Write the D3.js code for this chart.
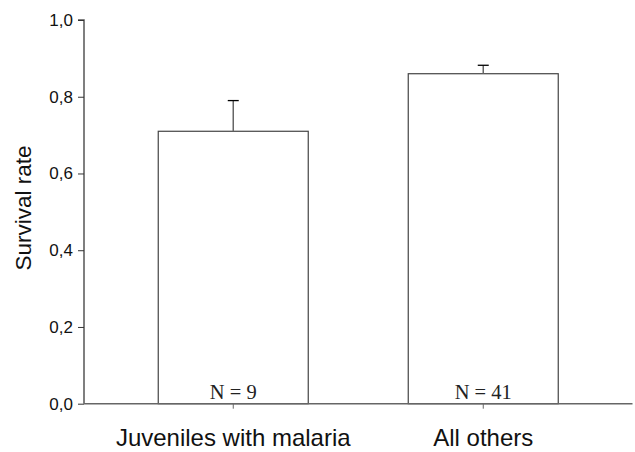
<!DOCTYPE html>
<html>
<head>
<meta charset="utf-8">
<script src="https://cdn.jsdelivr.net/npm/d3@7"></script>
<style>
  body { margin: 0; background: #fff; }
</style>
</head>
<body>
<div class="svg-container"></div>
<script>
// data
const categories = ["Juveniles with malaria", "All others"];
const survival = [0.71, 0.86];
const errorTop = [0.79, 0.882];
const sampleLabels = ["N = 9", "N = 41"];
const yTicks = [0, 0.2, 0.4, 0.6, 0.8, 1.0];

const width = 635;
const height = 452;
const margin = { top: 20, right: 2.5, bottom: 48, left: 84 };

const svg = d3
  .select(".svg-container")
  .append("svg")
  .attr("width", width)
  .attr("height", height)
  .style("font-family", "'Liberation Sans', Arial, sans-serif");

// scales
const yScale = d3
  .scaleLinear()
  .domain([0, 1])
  .range([403.7, margin.top]);

const xScale = d3
  .scaleBand()
  .domain(categories)
  .range([margin.left, width - margin.right])
  .paddingInner(0.4)
  .paddingOuter(0.297);

// bars
svg
  .selectAll(".bar")
  .data(categories)
  .enter()
  .append("rect")
  .attr("class", "bar")
  .attr("x", (d) => xScale(d))
  .attr("y", (d, i) => yScale(survival[i]))
  .attr("width", xScale.bandwidth())
  .attr("height", (d, i) => yScale(0) - yScale(survival[i]))
  .attr("fill", "#fff")
  .attr("stroke", "#444")
  .attr("stroke-width", 1.2);

// error bars (upper only)
const cx = (d) => xScale(d) + xScale.bandwidth() / 2;
svg
  .selectAll(".err")
  .data(categories)
  .enter()
  .append("line")
  .attr("x1", cx)
  .attr("x2", cx)
  .attr("y1", (d, i) => yScale(survival[i]))
  .attr("y2", (d, i) => yScale(errorTop[i]))
  .attr("stroke", "#666")
  .attr("stroke-width", 1.5);

svg
  .selectAll(".cap")
  .data(categories)
  .enter()
  .append("line")
  .attr("x1", (d) => cx(d) - 5.5)
  .attr("x2", (d) => cx(d) + 5.5)
  .attr("y1", (d, i) => yScale(errorTop[i]))
  .attr("y2", (d, i) => yScale(errorTop[i]))
  .attr("stroke", "#000")
  .attr("stroke-width", 1.3);

// sample size labels inside bars
svg
  .selectAll(".nlab")
  .data(categories)
  .enter()
  .append("text")
  .attr("x", cx)
  .attr("y", yScale(0) - 4.5)
  .attr("text-anchor", "middle")
  .style("font-family", "'Liberation Serif', 'Times New Roman', serif")
  .style("font-size", "20.5px")
  .attr("fill", "#222")
  .text((d, i) => sampleLabels[i]);

// y axis
const yAxis = svg
  .append("g")
  .attr("transform", `translate(${margin.left},0)`)
  .call(
    d3
      .axisLeft(yScale)
      .tickValues(yTicks)
      .tickSize(6)
      .tickPadding(5)
      .tickFormat((d) => d3.format(".1f")(d).replace(".", ","))
  );
yAxis.select(".domain").attr("stroke", "#555").attr("stroke-width", 1.5).attr("d", `M-6,${yScale(1)}H0V${yScale(0)}`);
yAxis.selectAll(".tick line").attr("stroke", "#333");
yAxis
  .selectAll(".tick text")
  .style("font-family", "'Liberation Sans', Arial, sans-serif")
  .style("font-size", "17px")
  .attr("fill", "#111");

// x axis
const xAxis = svg
  .append("g")
  .attr("transform", `translate(0,${yScale(0)})`)
  .call(d3.axisBottom(xScale).tickSize(5).tickPadding(20).tickSizeOuter(0));
xAxis.select(".domain").attr("stroke", "#666").attr("stroke-width", 1.5).attr("d", `M${margin.left},0H${width - margin.right}`);
xAxis.selectAll(".tick line").attr("stroke", "#666");
xAxis
  .selectAll(".tick text")
  .attr("dy", null)
  .attr("y", 42)
  .style("font-family", "'Liberation Sans', Arial, sans-serif")
  .style("font-size", "24px")
  .attr("fill", "#111");

// y axis title
svg
  .append("text")
  .attr("transform", `translate(31,208) rotate(-90)`)
  .attr("text-anchor", "middle")
  .style("font-size", "22.5px")
  .attr("fill", "#111")
  .text("Survival rate");
</script>
</body>
</html>
